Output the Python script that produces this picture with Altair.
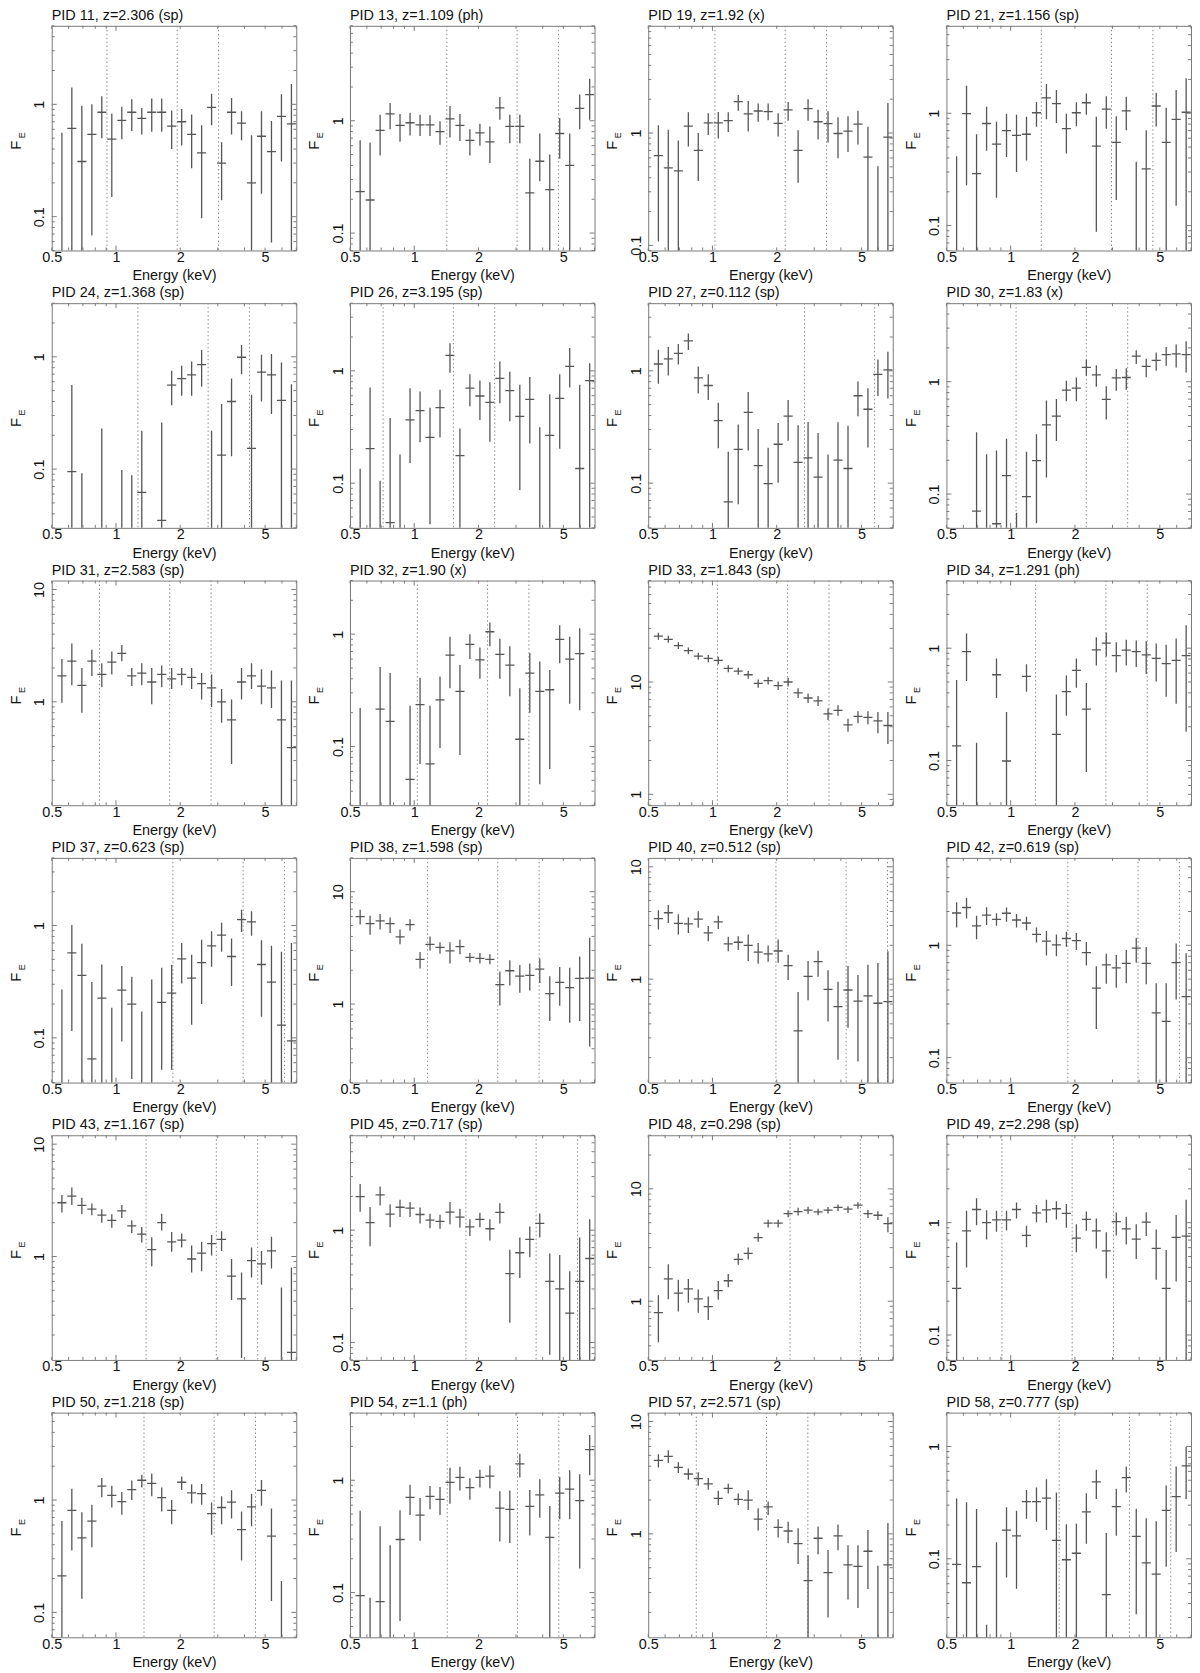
import altair as alt
import pandas as pd

FONT = "Liberation Sans"
W, H = 246, 226
N = None

# energy bins (keV): centres and horizontal extent of each cross
E_C = [0.558, 0.621, 0.692, 0.771, 0.858, 0.956, 1.065, 1.186, 1.321, 1.471, 1.638, 1.824,
       2.032, 2.263, 2.520, 2.806, 3.126, 3.481, 3.877, 4.318, 4.808, 5.355, 5.964, 6.642]
E_LO = [0.531, 0.592, 0.659, 0.734, 0.818, 0.910, 1.014, 1.129, 1.258, 1.401, 1.560, 1.737,
        1.935, 2.155, 2.400, 2.673, 2.977, 3.315, 3.692, 4.112, 4.580, 5.100, 5.680, 6.327]
E_HI = [0.586, 0.652, 0.727, 0.810, 0.902, 1.004, 1.118, 1.245, 1.387, 1.544, 1.720, 1.915,
        2.134, 2.376, 2.646, 2.947, 3.282, 3.655, 4.071, 4.534, 5.049, 5.624, 6.263, 6.975]

X_LABELS = [0.5, 1, 2, 5]
X_MINOR = [0.5, 0.6, 0.7, 0.8, 0.9, 2, 3, 4, 5, 6, 7]
X_MAJOR = [1]

PIDS = [11, 13, 19, 21, 24, 26, 27, 30, 31, 32, 33, 34, 37, 38, 40, 42, 43, 45, 48, 49, 50, 54, 57, 58]
ZLAB = ["2.306", "1.109", "1.92", "1.156", "1.368", "3.195", "0.112", "1.83", "2.583", "1.90", "1.843", "1.291",
        "0.623", "1.598", "0.512", "0.619", "1.167", "0.717", "0.298", "2.298", "1.218", "1.1", "2.571", "0.777"]
KIND = ["sp", "ph", "x", "sp", "sp", "sp", "sp", "x", "sp", "x", "sp", "ph",
        "sp", "sp", "sp", "sp", "sp", "sp", "sp", "sp", "sp", "ph", "sp", "sp"]
YMIN = [0.05, 0.07, 0.09, 0.06, 0.03, 0.04, 0.04, 0.05, 0.12, 0.03, 0.8, 0.04,
        0.04, 0.2, 0.12, 0.06, 0.12, 0.07, 0.3, 0.06, 0.06, 0.04, 0.12, 0.02]
YMAX = [5, 7, 9, 6, 3, 4, 4, 5, 12, 3, 80, 4,
        4, 20, 12, 6, 12, 7, 30, 6, 6, 4, 12, 2]

LINES_11 = [0.907, 1.936, 3.025]
LINES_13 = [1.422, 3.035, 4.742]
LINES_19 = [1.027, 2.192, 3.425]
LINES_21 = [1.391, 2.968, 4.638]
LINES_24 = [1.267, 2.703, 4.223]
LINES_26 = [0.715, 1.526, 2.384]
LINES_27 = [2.698, 5.755]
LINES_30 = [1.060, 2.261, 3.534]
LINES_31 = [0.837, 1.786, 2.791]
LINES_32 = [1.034, 2.207, 3.448]
LINES_33 = [1.055, 2.251, 3.517]
LINES_34 = [1.309, 2.794, 4.365]
LINES_37 = [1.848, 3.943, 6.161]
LINES_38 = [1.155, 2.463, 3.849]
LINES_40 = [1.984, 4.233, 6.614]
LINES_42 = [1.853, 3.953, 6.177]
LINES_43 = [1.384, 2.953, 4.615]
LINES_45 = [1.747, 3.727, 5.824]
LINES_48 = [2.311, 4.931]
LINES_49 = [0.910, 1.941, 3.032]
LINES_50 = [1.353, 2.885, 4.509]
LINES_54 = [1.429, 3.048, 4.762]
LINES_57 = [0.840, 1.792, 2.800]
LINES_58 = [1.688, 3.602, 5.627]

# F_E per bin: centre, upper and lower end of the error bar (None = below the panel)
C_11 = [N, 0.61, 0.31, 0.54, 0.85, 0.49, 0.72, 0.85, 0.75, 0.85, 0.85, 0.64, 0.70, 0.54, 0.37, 0.94, 0.30, 0.85, 0.68, 0.20, 0.52, 0.38, 0.78, 0.67]
HI_11 = [0.56, 1.41, 0.97, 1.0, 1.18, 0.83, 0.95, 1.11, 0.93, 1.13, 1.13, 0.88, 0.91, 0.81, 0.65, 1.24, 0.46, 1.14, 0.87, 0.53, 0.87, 0.71, 1.23, 1.52]
LO_11 = [N, N, N, 0.068, 0.50, 0.15, 0.49, 0.58, 0.54, 0.57, 0.57, 0.40, 0.43, 0.27, 0.097, 0.65, 0.14, 0.54, 0.48, N, 0.16, 0.059, 0.31, N]

C_13 = [0.234, 0.197, 0.82, 1.15, 0.91, 0.96, 0.92, 0.92, 0.80, 1.04, 0.91, 0.67, 0.78, 0.65, 1.30, 0.89, 0.89, 0.228, 0.436, 0.244, 0.77, 0.40, 1.29, 1.71]
HI_13 = [0.67, 0.64, 1.13, 1.44, 1.15, 1.18, 1.13, 1.12, 0.99, 1.35, 1.15, 0.84, 0.94, 0.89, 1.63, 1.13, 1.13, 0.46, 0.77, 0.50, 1.06, 0.77, 1.71, 2.36]
LO_13 = [N, N, 0.49, 0.84, 0.65, 0.74, 0.73, 0.73, 0.61, 0.71, 0.66, 0.49, 0.60, 0.42, 1.02, 0.63, 0.63, N, 0.29, N, 0.46, N, 0.84, 1.02]

C_19 = [0.63, 0.49, 0.46, 1.15, 0.70, 1.23, 1.23, 1.29, 1.90, 1.48, 1.57, 1.55, 1.22, 1.61, 0.70, 1.65, 1.26, 1.21, 0.99, 1.04, 1.20, 0.61, N, 0.92]
HI_19 = [1.17, 1.07, 0.86, 1.53, 1.0, 1.5, 1.54, 1.53, 2.18, 1.93, 1.83, 1.83, 1.5, 1.89, 1.06, 2.0, 1.61, 1.56, 1.38, 1.41, 1.58, 1.14, 0.505, 1.85]
LO_19 = [0.108, N, N, 0.757, 0.374, 0.958, 0.894, 1.02, 1.58, 1.03, 1.26, 1.30, 0.93, 1.285, 0.36, 1.285, 0.876, 0.823, 0.597, 0.677, 0.789, N, N, N]

C_21 = [N, 0.99, 0.29, 0.81, 0.53, 0.70, 0.635, 0.65, 1.01, 1.37, 1.22, 0.73, 1.01, 1.24, 0.51, 1.09, 0.55, 1.05, N, 0.32, 1.16, 0.55, 0.88, 1.02]
HI_21 = [0.415, 1.76, 0.65, 1.14, 0.84, 0.99, 0.97, 0.93, 1.26, 1.82, 1.61, 0.99, 1.25, 1.5, 0.93, 1.42, 0.94, 1.40, 0.37, 0.705, 1.52, 1.12, 1.61, 2.05]
LO_21 = [N, 0.228, N, 0.464, 0.177, 0.407, 0.30, 0.38, 0.757, 0.882, 0.817, 0.439, 0.767, 0.97, 0.088, 0.726, 0.169, 0.705, N, N, 0.762, N, 0.15, N]

C_24 = [N, 0.095, N, N, N, N, N, N, 0.062, N, 0.035, 0.56, 0.64, 0.69, 0.85, N, 0.133, 0.40, 0.99, 0.153, 0.73, 0.69, 0.41, N]
HI_24 = [N, 0.56, 0.092, N, 0.23, N, 0.098, 0.088, 0.22, N, 0.26, 0.75, 0.83, 0.91, 1.15, 0.22, 0.38, 0.64, 1.27, 0.46, 1.04, 1.06, 0.89, 0.57]
LO_24 = [N, N, N, N, N, N, N, N, N, N, N, 0.37, 0.45, 0.45, 0.54, N, N, 0.13, 0.70, N, 0.40, 0.31, N, N]

C_26 = [N, 0.203, N, 0.0445, N, 0.366, 0.442, 0.256, 0.47, 1.37, 0.176, 0.70, 0.597, 0.523, 0.858, 0.667, 0.393, 0.556, N, 0.266, 0.568, 1.095, 0.135, 0.817]
HI_26 = [0.134, 0.71, 0.105, 0.38, 0.18, 0.70, 0.654, 0.47, 0.677, 1.76, 0.307, 0.93, 0.82, 0.79, 1.21, 0.98, 0.75, 0.88, 0.314, 0.618, 0.93, 1.6, 0.75, 1.17]
LO_26 = [N, N, N, N, N, 0.151, 0.231, 0.043, 0.255, 0.96, N, 0.484, 0.364, 0.234, 0.515, 0.356, 0.087, 0.225, N, N, 0.202, 0.71, N, N]

C_27 = [1.15, 1.28, 1.43, 1.85, 0.864, 0.74, 0.361, 0.068, 0.20, 0.427, 0.143, 0.099, 0.222, 0.395, 0.153, 0.168, 0.113, N, 0.16, 0.135, 0.60, 0.455, 0.93, 1.02]
HI_27 = [1.54, 1.63, 1.73, 2.15, 1.09, 0.93, 0.52, 0.19, 0.332, 0.649, 0.303, 0.207, 0.344, 0.549, 0.327, 0.35, 0.279, 0.18, 0.349, 0.325, 0.805, 0.70, 1.26, 1.48]
LO_27 = [0.767, 0.907, 1.14, 1.53, 0.627, 0.549, 0.204, N, 0.065, 0.195, N, N, 0.101, 0.239, N, N, N, N, N, N, 0.395, 0.208, 0.597, 0.568]

C_30 = [N, N, 0.0706, N, 0.0544, 0.146, N, 0.095, 0.198, 0.412, 0.494, 0.84, 0.876, 1.34, 1.15, 0.696, 1.08, 1.09, 1.69, 1.37, 1.55, 1.74, 1.77, 1.74]
HI_30 = [N, N, 0.354, 0.226, 0.244, 0.31, 0.068, 0.238, 0.34, 0.68, 0.70, 1.02, 1.09, 1.57, 1.40, 0.913, 1.30, 1.32, 1.91, 1.6, 1.82, 2.04, 2.14, 2.29]
LO_30 = [N, N, N, N, N, N, N, N, 0.055, 0.14, 0.297, 0.67, 0.67, 1.13, 0.90, 0.46, 0.83, 0.85, 1.44, 1.095, 1.25, 1.39, 1.34, 1.21]

C_31 = [1.7, 2.3, 1.4, 2.3, 1.75, 2.25, 2.7, 1.7, 1.8, 1.5, 1.75, 1.6, 1.75, 1.65, 1.45, 1.33, 1.0, 0.69, 1.5, 1.7, 1.38, 1.33, 0.69, 0.39]
HI_31 = [2.4, 3.3, 2.0, 2.9, 2.2, 2.8, 3.2, 2.0, 2.2, 2.0, 2.1, 2.0, 2.0, 2.0, 1.8, 1.75, 1.3, 1.05, 2.0, 2.2, 1.95, 1.9, 1.55, 1.55]
LO_31 = [0.98, 1.4, 0.8, 1.7, 1.35, 1.75, 2.3, 1.38, 1.4, 0.95, 1.35, 1.3, 1.4, 1.3, 1.05, 0.9, 0.65, 0.28, 1.05, 1.3, 0.95, 0.88, N, N]

C_32 = [N, N, 0.215, 0.167, N, 0.051, 0.236, 0.07, 0.26, 0.65, 0.31, 0.81, 0.59, 1.05, 0.66, 0.53, 0.116, 0.45, 0.31, 0.32, 0.90, 0.60, 0.67, N]
HI_32 = [0.22, N, 0.51, 0.45, N, 0.23, 0.41, 0.23, 0.42, 0.95, 0.53, 1.0, 0.76, 1.27, 0.91, 0.78, 0.33, 0.68, 0.57, 0.48, 1.2, 0.95, 1.13, N]
LO_32 = [N, N, N, N, N, N, 0.07, N, 0.097, 0.33, 0.084, 0.6, 0.4, 0.78, 0.4, 0.28, N, 0.2, 0.046, 0.063, 0.55, 0.24, 0.21, N]

C_33 = [25.6, 24.0, 21.1, 19.0, 17.0, 16.2, 15.6, 13.2, 12.5, 11.6, 9.7, 10.3, 9.3, 10.0, 8.0, 7.2, 6.8, 5.2, 5.6, 4.15, 4.95, 4.85, 4.5, 4.1]
HI_33 = [27.5, 25.8, 22.6, 20.3, 18.2, 17.4, 16.8, 14.2, 13.4, 12.5, 10.5, 11.1, 10.1, 10.9, 8.8, 7.9, 7.5, 5.8, 6.2, 4.7, 5.5, 5.5, 5.4, 5.4]
LO_33 = [23.8, 22.3, 19.7, 17.7, 15.8, 15.0, 14.4, 12.2, 11.6, 10.7, 8.9, 9.5, 8.5, 9.1, 7.2, 6.5, 6.1, 4.6, 5.0, 3.6, 4.3, 4.2, 3.5, 2.8]

C_34 = [0.135, 0.93, N, N, 0.58, 0.099, N, 0.56, N, N, 0.171, 0.41, 0.635, 0.287, 0.966, 1.11, 0.86, 0.96, 0.93, 0.87, 0.81, 0.73, 0.78, 0.86]
HI_34 = [0.52, 1.35, 0.144, N, 0.81, 0.27, N, 0.72, N, N, 0.387, 0.57, 0.81, 0.49, 1.25, 1.38, 1.13, 1.19, 1.17, 1.15, 1.10, 1.07, 1.22, 1.6]
LO_34 = [N, 0.51, N, N, 0.36, N, N, 0.41, N, N, N, 0.25, 0.445, 0.079, 0.70, 0.845, 0.61, 0.70, 0.68, 0.59, 0.505, 0.37, 0.32, 0.18]

C_37 = [N, 0.57, 0.36, 0.065, 0.226, N, 0.266, 0.20, N, N, 0.207, 0.25, 0.505, 0.34, 0.468, 0.66, 0.82, 0.53, 1.13, 1.08, 0.45, 0.314, 0.13, 0.094]
HI_37 = [0.27, 1.01, 0.69, 0.314, 0.45, 0.185, 0.436, 0.35, 0.172, 0.33, 0.42, 0.445, 0.70, 0.55, 0.746, 0.89, 1.06, 0.767, 1.38, 1.34, 0.74, 0.66, 0.585, 0.70]
LO_37 = [N, 0.115, N, N, N, N, 0.093, 0.043, N, N, 0.052, 0.052, 0.305, 0.131, 0.20, 0.43, 0.585, 0.289, 0.876, 0.81, 0.154, N, N, N]

C_38 = [6.0, 5.2, 5.5, 5.2, 3.97, 5.1, 2.5, 3.4, 3.2, 2.97, 3.25, 2.6, 2.55, 2.5, 1.49, 1.98, 1.77, 1.8, 2.05, 1.24, 1.56, 1.4, 1.69, 1.7]
HI_38 = [6.9, 6.1, 6.35, 5.9, 4.6, 5.7, 2.9, 4.0, 3.55, 3.55, 3.74, 2.85, 2.85, 2.77, 1.95, 2.45, 2.23, 2.3, 2.55, 1.77, 2.14, 2.1, 2.65, 3.9]
LO_38 = [5.1, 4.15, 4.6, 4.3, 3.4, 4.5, 2.07, 3.0, 2.8, 2.3, 2.77, 2.36, 2.3, 2.26, 0.97, 1.46, 1.26, 1.32, 1.54, 0.706, 0.966, 0.68, 0.706, 0.42]

C_40 = [3.46, 3.9, 3.14, 3.1, 3.42, 2.58, 3.23, 2.06, 2.13, 2.0, 1.74, 1.68, 1.78, 1.32, 0.346, 1.06, 1.43, 0.81, 0.57, 0.80, 0.637, 0.71, 0.61, 0.63]
HI_40 = [4.1, 4.57, 3.79, 3.54, 4.03, 2.97, 3.66, 2.39, 2.41, 2.5, 2.1, 1.99, 2.25, 1.65, 0.77, 1.45, 1.79, 1.2, 0.946, 1.31, 1.09, 1.34, 1.39, 1.77]
LO_40 = [2.77, 3.16, 2.5, 2.58, 2.87, 2.17, 2.79, 1.77, 1.82, 1.45, 1.37, 1.43, 1.40, 0.98, N, 0.65, 1.05, 0.42, 0.192, 0.37, 0.185, N, N, N]

C_42 = [1.94, 2.17, 1.49, 1.86, 1.70, 1.93, 1.68, 1.58, 1.25, 1.09, 1.01, 1.15, 1.10, 0.86, 0.415, 0.67, 0.63, 0.69, 0.946, 0.69, 0.25, 0.21, 0.70, 0.35]
HI_42 = [2.42, 2.64, 1.83, 2.18, 1.93, 2.17, 1.9, 1.8, 1.44, 1.34, 1.25, 1.32, 1.29, 1.07, 0.65, 0.84, 0.82, 0.91, 1.17, 0.966, 0.46, 0.46, 1.04, 0.85]
LO_42 = [1.44, 1.73, 1.13, 1.52, 1.49, 1.62, 1.44, 1.36, 1.06, 0.81, 0.80, 0.97, 0.91, 0.66, 0.18, 0.455, 0.42, 0.46, 0.70, 0.45, N, N, 0.33, N]

C_43 = [3.01, 3.44, 2.85, 2.64, 2.33, 2.1, 2.55, 1.87, 1.58, 1.15, 2.0, 1.35, 1.4, 0.95, 1.07, 1.3, 1.42, 0.67, 0.42, 0.92, 0.86, 1.12, N, 0.14]
HI_43 = [3.53, 4.12, 3.34, 2.97, 2.64, 2.38, 2.87, 2.1, 1.83, 1.48, 2.4, 1.65, 1.6, 1.25, 1.35, 1.55, 1.68, 0.95, 0.72, 1.2, 1.12, 1.5, 0.53, 0.80]
LO_43 = [2.46, 2.87, 2.38, 2.33, 2.0, 1.80, 2.2, 1.62, 1.33, 0.82, 1.7, 1.1, 1.2, 0.72, 0.74, 1.02, 1.12, 0.41, 0.125, 0.65, 0.56, 0.78, N, N]

C_45 = [1.99, 1.17, 2.06, 1.39, 1.6, 1.57, 1.38, 1.23, 1.2, 1.45, 1.31, 1.07, 1.25, 1.03, 1.44, 0.41, 0.63, 0.83, 1.15, 0.35, 0.30, 0.183, 0.35, 0.56]
HI_45 = [2.58, 1.61, 2.45, 1.7, 1.87, 1.78, 1.59, 1.40, 1.37, 1.78, 1.55, 1.25, 1.43, 1.25, 1.74, 0.67, 0.86, 1.08, 1.41, 0.62, 0.6, 0.43, 0.86, 1.25]
LO_45 = [1.46, 0.72, 1.66, 1.06, 1.31, 1.31, 1.15, 1.04, 1.03, 1.13, 1.05, 0.89, 1.06, 0.81, 1.15, 0.15, 0.376, 0.575, 0.86, 0.078, N, N, N, N]

C_48 = [0.79, 1.58, 1.18, 1.29, 1.05, 0.895, 1.24, 1.52, 2.36, 2.66, 3.68, 4.96, 4.96, 6.03, 6.28, 6.46, 6.25, 6.46, 6.83, 6.6, 7.17, 6.03, 5.82, 4.9]
HI_48 = [1.13, 2.13, 1.55, 1.58, 1.27, 1.1, 1.51, 1.75, 2.66, 3.01, 4.06, 5.32, 5.32, 6.46, 6.78, 6.93, 6.64, 6.88, 7.27, 7.0, 7.6, 6.5, 6.32, 5.6]
LO_48 = [0.43, 1.04, 0.81, 0.97, 0.79, 0.68, 1.03, 1.33, 2.11, 2.35, 3.39, 4.53, 4.53, 5.58, 5.79, 5.98, 5.83, 6.02, 6.36, 6.1, 6.64, 5.5, 5.28, 4.1]

C_49 = [0.26, 0.846, 1.31, 1.0, 1.06, 1.06, 1.31, 0.77, 1.22, 1.30, 1.33, 1.21, 0.73, 1.07, 0.846, 0.56, 1.02, 0.88, 0.715, 1.01, 0.59, 0.26, 0.74, 0.76]
HI_49 = [0.667, 1.28, 1.65, 1.29, 1.28, 1.28, 1.51, 0.94, 1.44, 1.6, 1.55, 1.47, 0.966, 1.26, 1.09, 0.82, 1.23, 1.13, 0.966, 1.24, 0.87, 0.57, 1.17, 1.6]
LO_49 = [N, 0.40, 0.95, 0.71, 0.83, 0.85, 1.09, 0.605, 1.01, 1.0, 1.07, 0.90, 0.545, 0.846, 0.59, 0.32, 0.77, 0.64, 0.475, 0.76, 0.31, N, 0.30, N]

C_50 = [0.211, 0.81, 0.46, 0.65, 1.33, 1.1, 0.966, 1.24, 1.5, 1.41, 1.05, 0.81, 1.44, 1.16, 1.14, 0.757, 0.858, 0.96, 0.545, 0.87, 1.22, 0.477, N, N]
HI_50 = [0.65, 1.26, 0.78, 0.91, 1.57, 1.34, 1.18, 1.49, 1.68, 1.72, 1.29, 1.0, 1.62, 1.38, 1.39, 0.95, 1.08, 1.22, 0.79, 1.13, 1.51, 0.84, 0.19, N]
LO_50 = [N, 0.356, 0.132, 0.38, 1.06, 0.86, 0.74, 1.0, 1.29, 1.08, 0.79, 0.61, 1.23, 0.93, 0.91, 0.49, 0.61, 0.686, 0.29, 0.585, 0.89, 0.126, N, N]

C_54 = [0.094, N, 0.083, N, 0.297, 0.705, 0.49, 0.72, 0.676, 0.959, 1.06, 0.86, 1.06, 1.09, 0.564, 0.55, 1.4, 0.585, 0.74, 0.31, 0.767, 0.834, 0.658, 1.87]
HI_54 = [0.534, 0.09, 0.39, 0.264, 0.54, 0.91, 0.696, 0.888, 0.87, 1.29, 1.32, 1.04, 1.24, 1.35, 0.80, 0.81, 1.72, 0.82, 1.02, 0.59, 1.07, 1.23, 1.13, 2.53]
LO_54 = [N, N, N, N, 0.056, 0.49, 0.289, 0.553, 0.49, 0.618, 0.81, 0.67, 0.86, 0.85, 0.285, 0.277, 1.06, 0.323, 0.464, N, 0.45, 0.45, 0.164, 1.11]

C_57 = [4.5, 4.9, 3.91, 3.41, 3.1, 2.79, 2.07, 2.54, 2.03, 2.0, 1.35, 1.74, 1.14, 1.06, 0.819, 0.383, 0.914, 0.452, 0.96, 0.53, 0.513, 0.70, N, 0.53]
HI_57 = [5.1, 5.56, 4.34, 3.81, 3.53, 3.14, 2.42, 2.79, 2.29, 2.45, 1.69, 1.94, 1.35, 1.28, 1.12, 0.644, 1.16, 0.718, 1.21, 0.79, 0.79, 1.08, 0.52, 1.25]
LO_57 = [3.9, 4.28, 3.48, 3.03, 2.68, 2.47, 1.81, 2.29, 1.81, 1.63, 1.07, 1.47, 0.93, 0.825, 0.538, N, 0.657, 0.18, 0.713, 0.26, 0.219, 0.323, N, N]

C_58 = [0.089, 0.0612, 0.085, N, N, 0.18, 0.16, 0.323, 0.323, 0.346, 0.146, 0.098, 0.112, 0.262, 0.483, 0.048, 0.291, 0.528, 0.158, 0.092, 0.073, 0.27, 0.358, 0.67]
HI_58 = [0.344, 0.318, 0.277, 0.0258, 0.14, 0.287, 0.268, 0.41, 0.43, 0.51, 0.39, 0.203, 0.205, 0.384, 0.62, 0.17, 0.42, 0.664, 0.279, 0.229, 0.216, 0.45, 0.664, 0.99]
LO_58 = [N, N, N, N, N, 0.068, 0.054, 0.227, 0.214, 0.18, N, N, N, 0.136, 0.34, N, 0.16, 0.39, 0.032, N, N, 0.085, 0.115, 0.34]

SERIES = [
    (C_11, HI_11, LO_11, LINES_11), (C_13, HI_13, LO_13, LINES_13), (C_19, HI_19, LO_19, LINES_19),
    (C_21, HI_21, LO_21, LINES_21), (C_24, HI_24, LO_24, LINES_24), (C_26, HI_26, LO_26, LINES_26),
    (C_27, HI_27, LO_27, LINES_27), (C_30, HI_30, LO_30, LINES_30), (C_31, HI_31, LO_31, LINES_31),
    (C_32, HI_32, LO_32, LINES_32), (C_33, HI_33, LO_33, LINES_33), (C_34, HI_34, LO_34, LINES_34),
    (C_37, HI_37, LO_37, LINES_37), (C_38, HI_38, LO_38, LINES_38), (C_40, HI_40, LO_40, LINES_40),
    (C_42, HI_42, LO_42, LINES_42), (C_43, HI_43, LO_43, LINES_43), (C_45, HI_45, LO_45, LINES_45),
    (C_48, HI_48, LO_48, LINES_48), (C_49, HI_49, LO_49, LINES_49), (C_50, HI_50, LO_50, LINES_50),
    (C_54, HI_54, LO_54, LINES_54), (C_57, HI_57, LO_57, LINES_57), (C_58, HI_58, LO_58, LINES_58),
]

DATA_COL = "#555555"
FRAME_COL = "#7a7a7a"
TEXT_COL = "#111111"
LABEL_FS = 14.5
TITLE_FS = 14.5


def panel(i):
    cv, hv, lv, lines = SERIES[i]
    ymin, ymax = YMIN[i], YMAX[i]
    rows = []
    for k in range(24):
        if hv[k] is None:
            continue
        rows.append({"e": E_C[k], "elo": E_LO[k], "ehi": E_HI[k],
                     "c": cv[k], "hi": hv[k],
                     "lo": lv[k] if lv[k] is not None else ymin / 10.0})
    df = pd.DataFrame(rows)
    dfc = df[df["c"].notna()]

    decades = [v for v in [0.01, 0.1, 1, 10, 100] if ymin <= v <= ymax]
    ymajor, yminor = [], []
    for p in [0.01, 0.1, 1, 10, 100]:
        for m in range(1, 10):
            v = round(m * p, 6)
            if ymin <= v <= ymax:
                (ymajor if m == 1 else yminor).append(v)

    xs = alt.Scale(type="log", domain=[0.5, 7.0], nice=False)
    ys = alt.Scale(type="log", domain=[ymin, ymax], nice=False)
    xaxis = alt.Axis(values=X_LABELS, format="~g", ticks=False, domain=False, grid=False,
                     labelFlush=False, labelOverlap=False, labelFontSize=LABEL_FS, labelPadding=0,
                     labelColor=TEXT_COL, title="Energy (keV)", titleFontSize=TITLE_FS,
                     titleFontWeight="normal", titlePadding=5, titleColor=TEXT_COL)
    yaxis = alt.Axis(values=decades, format="~g", ticks=False, domain=False, grid=False,
                     labelFlush=False, labelOverlap=False, labelFontSize=LABEL_FS, labelAngle=270,
                     labelAlign="center", labelBaseline="bottom", labelPadding=5,
                     labelColor=TEXT_COL, title=None)

    def X(f):
        return alt.X(f, type="quantitative", scale=xs, axis=xaxis)

    def Y(f):
        return alt.Y(f, type="quantitative", scale=ys, axis=yaxis)

    layers = []
    # dotted reference lines
    layers.append(alt.Chart(pd.DataFrame({"l": lines})).mark_rule(
        color="#8a8a8a", strokeWidth=1, strokeDash=[1.5, 2.5], clip=True).encode(
        x=X("l"), y=alt.value(0), y2=alt.value(H)))
    # vertical error bars
    layers.append(alt.Chart(df).mark_rule(color=DATA_COL, strokeWidth=1.3, clip=True).encode(
        x=X("e"), y=Y("lo"), y2="hi:Q"))
    # horizontal bin bars
    layers.append(alt.Chart(dfc).mark_rule(color=DATA_COL, strokeWidth=1.3, clip=True).encode(
        x=X("elo"), x2="ehi:Q", y=Y("c")))
    # inward ticks on x (top and bottom)
    for vals, ln in [(X_MINOR, 3), (X_MAJOR, 5)]:
        tdf = pd.DataFrame({"t": vals})
        layers.append(alt.Chart(tdf).mark_rule(color=FRAME_COL, strokeWidth=1).encode(
            x=X("t"), y=alt.value(0), y2=alt.value(ln)))
        layers.append(alt.Chart(tdf).mark_rule(color=FRAME_COL, strokeWidth=1).encode(
            x=X("t"), y=alt.value(H), y2=alt.value(H - ln)))
    # inward ticks on y (left and right)
    for vals, ln in [(yminor, 3), (ymajor, 5)]:
        if not vals:
            continue
        tdf = pd.DataFrame({"t": vals})
        layers.append(alt.Chart(tdf).mark_rule(color=FRAME_COL, strokeWidth=1).encode(
            y=Y("t"), x=alt.value(0), x2=alt.value(ln)))
        layers.append(alt.Chart(tdf).mark_rule(color=FRAME_COL, strokeWidth=1).encode(
            y=Y("t"), x=alt.value(W), x2=alt.value(W - ln)))
    one = pd.DataFrame({"k": [0]})
    # panel title
    layers.append(alt.Chart(one).mark_text(align="left", baseline="alphabetic", fontSize=TITLE_FS,
                                           color=TEXT_COL).encode(
        x=alt.value(0), y=alt.value(-6),
        text=alt.value(f"PID {PIDS[i]}, z={ZLAB[i]} ({KIND[i]})")))
    # y title F_E
    layers.append(alt.Chart(one).mark_text(align="center", baseline="middle", fontSize=15,
                                           angle=270, color=TEXT_COL).encode(
        x=alt.value(-36), y=alt.value(H / 2 + 7), text=alt.value("F")))
    layers.append(alt.Chart(one).mark_text(align="center", baseline="middle", fontSize=9,
                                           angle=270, color=TEXT_COL).encode(
        x=alt.value(-30), y=alt.value(H / 2 - 3), text=alt.value("E")))
    return alt.layer(*layers).properties(width=W, height=H)


panels = [panel(i) for i in range(len(PIDS))]

chart = alt.concat(*panels, columns=4, spacing={"row": 53, "column": 54}, bounds="flush").properties(
    padding={"left": 0, "top": -6, "right": 0, "bottom": 0}
).configure(font=FONT).configure_view(stroke=FRAME_COL, strokeWidth=1)

chart.save("out.html", embed_options={"renderer": "svg", "actions": False})
